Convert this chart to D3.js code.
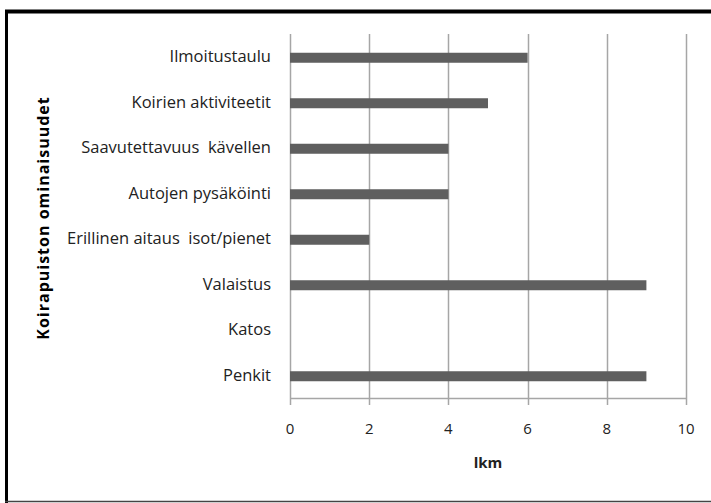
<!DOCTYPE html>
<html><head><meta charset="utf-8">
<script src="https://cdn.jsdelivr.net/npm/d3@7"></script>
<style>body{margin:0;background:#fff}svg{display:block}</style>
</head><body>
<script>
const categories = ["Ilmoitustaulu","Koirien aktiviteetit","Saavutettavuus  kävellen","Autojen pysäköinti","Erillinen aitaus  isot/pienet","Valaistus","Katos","Penkit"];
const values = [6,5,4,4,2,9,0,9];
const xTicks = [0,2,4,6,8,10];
const xTitle = "lkm";
const yTitle = "Koirapuiston ominaisuudet";

(function(){
const W=711,H=503;
const svg=d3.select("body").append("svg").attr("width",W).attr("height",H);
// frame
svg.append("line").attr("x1",5).attr("x2",W).attr("y1",11.5).attr("y2",11.5).attr("stroke","#000").attr("stroke-width",4);
svg.append("line").attr("x1",6.5).attr("x2",6.5).attr("y1",10).attr("y2",H).attr("stroke","#000").attr("stroke-width",3);
svg.append("line").attr("x1",5).attr("x2",W).attr("y1",501.5).attr("y2",501.5).attr("stroke","#444").attr("stroke-width",1.5);

const pl=290,pr=686,pt=34,pb=398;
const x=d3.scaleLinear().domain([0,10]).range([pl,pr]);
const y=d3.scaleBand().domain(categories).range([pt,pb]);

const g=svg.append("g");
g.selectAll(".grid").data(xTicks).join("line")
 .attr("x1",d=>Math.round(x(d))+0.5).attr("x2",d=>Math.round(x(d))+0.5)
 .attr("y1",pt).attr("y2",pb+7).attr("stroke","#a6a6a6").attr("stroke-width",1.5);
g.append("line").attr("x1",pl).attr("x2",pr+1).attr("y1",pb+0.5).attr("y2",pb+0.5).attr("stroke","#a6a6a6").attr("stroke-width",1.5);
const bh=10;
g.selectAll(".bar").data(values).join("rect")
 .attr("x",x(0)).attr("y",(d,i)=>y(categories[i])+y.bandwidth()/2-bh/2+1)
 .attr("width",d=>x(d)-x(0)).attr("height",bh).attr("fill","#5f5f5f");
const font="'Open Sans', 'Noto Sans', sans-serif";
g.selectAll(".cat").data(categories).join("text")
 .attr("x",pl-19).attr("y",d=>y(d)+y.bandwidth()/2+1)
 .attr("text-anchor","end").attr("dominant-baseline","middle")
 .attr("font-family",font).attr("font-size",16.5).attr("fill","#222")
 .style("white-space","pre").text(d=>d);
g.selectAll(".tl").data(xTicks).join("text")
 .attr("x",d=>x(d)).attr("y",430).attr("text-anchor","middle").attr("dominant-baseline","middle")
 .attr("font-family",font).attr("font-size",15).attr("fill","#222").text(d=>d);
svg.append("text").attr("x",488).attr("y",464).attr("text-anchor","middle").attr("dominant-baseline","middle")
 .attr("font-family",font).attr("font-size",15).attr("font-weight","bold").attr("fill","#222").text(xTitle);
svg.append("text").attr("transform","translate(45,218) rotate(-90)").attr("text-anchor","middle").attr("dominant-baseline","middle")
 .attr("font-family",font).attr("font-size",16).attr("letter-spacing",1).attr("font-weight","bold").attr("fill","#000").text(yTitle);
})();
</script>
</body></html>
